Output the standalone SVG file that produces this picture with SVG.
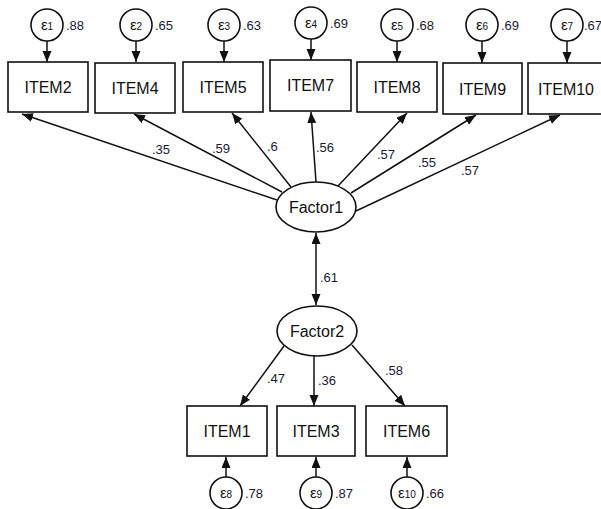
<svg xmlns="http://www.w3.org/2000/svg" width="601" height="509" viewBox="0 0 601 509">
<defs>
<marker id="ah" markerUnits="userSpaceOnUse" markerWidth="12" markerHeight="10" refX="11" refY="4.5" orient="auto-start-reverse" viewBox="0 0 12 10">
<path d="M0,0 L11,4.5 L0,9 z" fill="#111"/>
</marker>
<style>
.box{fill:#fff;stroke:#111;stroke-width:1.6}
.lat{fill:#fff;stroke:#111;stroke-width:1.6}
.err{fill:#fff;stroke:#111;stroke-width:1.6}
.lbl{font-family:"Liberation Sans",Arial,sans-serif;font-size:16px;fill:#111;text-anchor:middle}
.num{font-family:"Liberation Sans",Arial,sans-serif;font-size:13px;fill:#1a1a33}
.eps{font-family:"Liberation Sans",Arial,sans-serif;font-size:15px;fill:#111;text-anchor:middle}
.eps tspan{font-size:10px}
.con line{stroke:#111;stroke-width:1.5;marker-end:url(#ah)}
</style>
</defs>
<rect width="601" height="509" fill="#fff"/>
<g class="con" id="connectors">
<line x1="277" y1="200" x2="22" y2="114"/>
<line x1="282" y1="192" x2="134" y2="114"/>
<line x1="291" y1="187" x2="232" y2="113"/>
<line x1="316" y1="182" x2="311" y2="112"/>
<line x1="338" y1="186" x2="407" y2="113"/>
<line x1="351" y1="193" x2="476" y2="115"/>
<line x1="356" y1="211" x2="560" y2="115"/>
<line x1="316" y1="233" x2="316" y2="305" marker-start="url(#ah)"/>
<line x1="284" y1="346" x2="240" y2="406"/>
<line x1="314" y1="356" x2="314" y2="406"/>
<line x1="352" y1="345" x2="405" y2="406"/>
<line x1="47" y1="41" x2="47" y2="62"/>
<line x1="136" y1="41" x2="136" y2="62"/>
<line x1="224" y1="41" x2="224" y2="62"/>
<line x1="311" y1="39" x2="311" y2="60"/>
<line x1="397" y1="41" x2="397" y2="62"/>
<line x1="482" y1="41" x2="482" y2="63"/>
<line x1="567" y1="41" x2="567" y2="63"/>
<line x1="226" y1="477" x2="226" y2="457"/>
<line x1="316" y1="477" x2="316" y2="457"/>
<line x1="407" y1="477" x2="407" y2="457"/>
<g class="num">
<text x="152" y="154">.35</text>
<text x="212" y="153">.59</text>
<text x="267" y="151">.6</text>
<text x="316" y="152">.56</text>
<text x="377" y="159">.57</text>
<text x="418" y="167">.55</text>
<text x="461" y="175">.57</text>
<text x="320" y="282">.61</text>
<text x="267" y="383">.47</text>
<text x="318" y="385">.36</text>
<text x="385" y="375">.58</text>
</g>
</g>
<g id="Factor1"><ellipse class="lat" cx="316" cy="207" rx="40" ry="25"/><text class="lbl" x="316" y="213">Factor1</text></g>
<g id="Factor2"><ellipse class="lat" cx="317" cy="331" rx="40" ry="25"/><text class="lbl" x="317" y="337">Factor2</text></g>
<g id="ITEM2"><rect class="box" x="8" y="62" width="80" height="50"/><text class="lbl" x="48" y="93">ITEM2</text></g>
<g id="ITEM4"><rect class="box" x="95" y="63" width="80" height="50"/><text class="lbl" x="135" y="94">ITEM4</text></g>
<g id="ITEM5"><rect class="box" x="183" y="62" width="80" height="50"/><text class="lbl" x="223" y="93">ITEM5</text></g>
<g id="ITEM7"><rect class="box" x="270" y="60" width="81" height="51"/><text class="lbl" x="310.5" y="91">ITEM7</text></g>
<g id="ITEM8"><rect class="box" x="357" y="62" width="80" height="50"/><text class="lbl" x="397" y="93">ITEM8</text></g>
<g id="ITEM9"><rect class="box" x="443" y="63" width="79" height="51"/><text class="lbl" x="482.5" y="95">ITEM9</text></g>
<g id="ITEM10"><rect class="box" x="528" y="63" width="78" height="51"/><text class="lbl" x="566" y="95">ITEM10</text></g>
<g id="ITEM1"><rect class="box" x="187" y="406" width="80" height="50"/><text class="lbl" x="227" y="437">ITEM1</text></g>
<g id="ITEM3"><rect class="box" x="277" y="406" width="78" height="50"/><text class="lbl" x="316" y="437">ITEM3</text></g>
<g id="ITEM6"><rect class="box" x="366" y="406" width="81" height="50"/><text class="lbl" x="406.5" y="437">ITEM6</text></g>
<g id="e1"><circle class="err" cx="47" cy="25" r="16"/><text class="eps" x="47" y="30">ε<tspan>1</tspan></text><text class="num" x="66" y="30">.88</text></g>
<g id="e2"><circle class="err" cx="136" cy="25" r="16"/><text class="eps" x="136" y="30">ε<tspan>2</tspan></text><text class="num" x="155" y="30">.65</text></g>
<g id="e3"><circle class="err" cx="224" cy="25" r="16"/><text class="eps" x="224" y="30">ε<tspan>3</tspan></text><text class="num" x="243" y="30">.63</text></g>
<g id="e4"><circle class="err" cx="311" cy="23" r="16"/><text class="eps" x="311" y="28">ε<tspan>4</tspan></text><text class="num" x="330" y="28">.69</text></g>
<g id="e5"><circle class="err" cx="397" cy="25" r="16"/><text class="eps" x="397" y="30">ε<tspan>5</tspan></text><text class="num" x="416" y="30">.68</text></g>
<g id="e6"><circle class="err" cx="482" cy="25" r="16"/><text class="eps" x="482" y="30">ε<tspan>6</tspan></text><text class="num" x="501" y="30">.69</text></g>
<g id="e7"><circle class="err" cx="567" cy="25" r="16"/><text class="eps" x="567" y="30">ε<tspan>7</tspan></text><text class="num" x="584" y="30">.67</text></g>
<g id="e8"><circle class="err" cx="226" cy="493" r="16"/><text class="eps" x="226" y="498">ε<tspan>8</tspan></text><text class="num" x="245" y="498">.78</text></g>
<g id="e9"><circle class="err" cx="316" cy="493" r="16"/><text class="eps" x="316" y="498">ε<tspan>9</tspan></text><text class="num" x="335" y="498">.87</text></g>
<g id="e10"><circle class="err" cx="407" cy="493" r="16"/><text class="eps" x="407" y="498">ε<tspan>10</tspan></text><text class="num" x="426" y="498">.66</text></g>
</svg>
